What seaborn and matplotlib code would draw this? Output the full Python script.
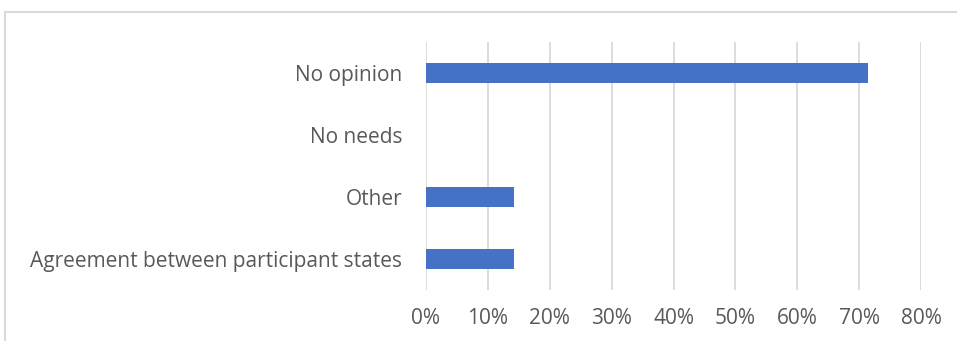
import pandas as pd
import matplotlib.pyplot as plt
import seaborn as sns
from matplotlib.patches import Rectangle
from matplotlib.ticker import PercentFormatter

# Survey answers (share of respondents)
categories = ['No opinion', 'No needs', 'Other', 'Agreement between participant states']
shares = [5 / 7, 0.0, 1 / 7, 1 / 7]
tick_values = [0, 0.1, 0.2, 0.3, 0.4, 0.5, 0.6, 0.7, 0.8]

df = pd.DataFrame({'Answer': categories, 'Share': shares})

sns.set_style('white')
plt.rcParams['font.family'] = ['Open Sans', 'DejaVu Sans']

fig = plt.figure(figsize=(9.57, 3.41), dpi=100)
# light frame around the chart area, like the spreadsheet chart border
fig.patches.append(Rectangle((5 / 957, -0.05), 1.0, 1 - 12 / 341 + 0.05,
                             transform=fig.transFigure, fill=False,
                             edgecolor='#D9D9D9', linewidth=1.5))

ax = fig.add_axes([426 / 957, 1 - 290 / 341, (921 - 426) / 957, (290 - 42) / 341])
sns.barplot(data=df, x='Share', y='Answer', order=categories, color='#4472C4',
            width=0.33, saturation=1, edgecolor='none', ax=ax)

ax.set_xlim(0, 0.8)
ax.set_xticks(tick_values)
ax.xaxis.set_major_formatter(PercentFormatter(1.0, decimals=0))
ax.grid(axis='x', color='#D9D9D9', linewidth=1.3)
ax.set_axisbelow(True)
ax.set_xlabel('')
ax.set_ylabel('')
sns.despine(ax=ax, left=True, bottom=True)
ax.tick_params(axis='both', length=0, labelsize=15, labelcolor='#595959')
ax.tick_params(axis='x', pad=13)
ax.tick_params(axis='y', pad=17)

fig.savefig('out.png', dpi=100)
